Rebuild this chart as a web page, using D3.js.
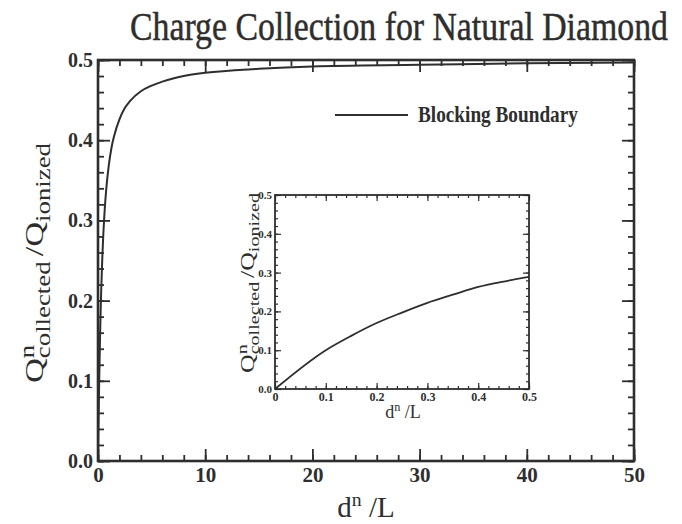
<!DOCTYPE html>
<html><head><meta charset="utf-8">
<script src="https://cdn.jsdelivr.net/npm/d3@7"></script>
<style>
html,body{margin:0;padding:0;background:#fff;}
svg{display:block;font-family:"Liberation Serif","Times New Roman",serif;}
text{white-space:pre;}
</style></head>
<body><svg id="c" width="682" height="524"></svg>
<script>
// ---- data ----
const mainX = [0,0.05,0.1,0.15,0.2,0.25,0.3,0.4,0.5,0.6,0.75,1,1.25,1.5,2,2.5,3,4,5,6,7,8,10,15,20,30,40,50];
const mainY = [0,0.048,0.09,0.127,0.16,0.189,0.213,0.253,0.284,0.308,0.336,0.368,0.39,0.405,0.426,0.44,0.449,0.461,0.468,0.473,0.477,0.48,0.484,0.489,0.492,0.494,0.496,0.497];
const insetX = [0,0.1,0.15,0.2,0.25,0.3,0.35,0.4,0.45,0.5];
const insetY = [0,0.1,0.137,0.17,0.197,0.222,0.243,0.263,0.277,0.289];
const mainXTicks = [0,10,20,30,40,50];
const mainYTicks = [0.0,0.1,0.2,0.3,0.4,0.5];
const insetXTicks = [0,0.1,0.2,0.3,0.4,0.5];
const insetYTicks = [0.0,0.1,0.2,0.3,0.4,0.5];
const titleText = "Charge Collection for Natural Diamond";
const legendText = "Blocking Boundary";

const ink = "#2e2e2e";
const svg = d3.select("#c");

function panel(g, box, xd, yd, xt, yt, xMinorStep, yMinorStep, o){
  const x = d3.scaleLinear().domain(xd).range([box.l, box.r]);
  const y = d3.scaleLinear().domain(yd).range([box.b, box.t]);
  const xMinor = d3.range(xd[0], xd[1] + 1e-9, xMinorStep);
  const yMinor = d3.range(yd[0], yd[1] + 1e-9, yMinorStep);
  const mk = (axisFn, scale, vals, len, tr) => {
    const a = g.append("g").attr("transform", tr)
      .call(axisFn(scale).tickValues(vals).tickSize(len).tickFormat(""));
    a.select(".domain").remove();
    a.selectAll("line").attr("stroke", ink).attr("stroke-width", o.tw);
  };
  mk(d3.axisTop, x, xMinor, o.minor, `translate(0,${box.b})`);
  mk(d3.axisTop, x, xt, o.major, `translate(0,${box.b})`);
  mk(d3.axisBottom, x, xMinor, o.minor, `translate(0,${box.t})`);
  mk(d3.axisBottom, x, xt, o.major, `translate(0,${box.t})`);
  mk(d3.axisRight, y, yMinor, o.minor, `translate(${box.l},0)`);
  mk(d3.axisRight, y, yt, o.major, `translate(${box.l},0)`);
  mk(d3.axisLeft, y, yMinor, o.minor, `translate(${box.r},0)`);
  mk(d3.axisLeft, y, yt, o.major, `translate(${box.r},0)`);
  g.append("rect").attr("x", box.l).attr("y", box.t)
    .attr("width", box.r - box.l).attr("height", box.b - box.t)
    .attr("fill", "none").attr("stroke", ink).attr("stroke-width", o.frame);
  const xl = g.append("g").attr("transform", `translate(0,${box.b})`)
    .call(d3.axisBottom(x).tickValues(xt).tickSize(0).tickPadding(o.xpad).tickFormat(o.xfmt));
  xl.select(".domain").remove();
  xl.selectAll("text").attr("fill", ink).attr("font-family", "Liberation Serif")
    .attr("font-size", o.xfs).attr("font-weight", "bold");
  const yl = g.append("g").attr("transform", `translate(${box.l},0)`)
    .call(d3.axisLeft(y).tickValues(yt).tickSize(0).tickPadding(o.ypad).tickFormat(d3.format(".1f")));
  yl.select(".domain").remove();
  yl.selectAll("text").attr("fill", ink).attr("font-family", "Liberation Serif")
    .attr("font-size", o.yfs).attr("font-weight", "bold");
  return {x, y};
}

// rich label: pieces drawn sequentially, measuring widths
function rich(g, pieces, fs){
  g.selectAll("*").remove();
  let cx = 0, stackStart = null;
  pieces.forEach(p => {
    const t = g.append("text").attr("font-size", fs * (p.s || 1))
      .attr("fill", ink).attr("y", (p.dy || 0) * fs).text(p.t);
    let start = cx + (p.gap || 0) * fs;
    if (p.under) start = stackStart;
    t.attr("x", start);
    const w = t.node().getComputedTextLength();
    if (p.over) { stackStart = start; cx = start + w; }
    else if (p.under) { cx = Math.max(cx, start + w); }
    else cx = start + w;
  });
  return cx;
}

// ---- title (stretched vertically like the scan) ----
const title = svg.append("text").attr("text-anchor", "middle").attr("font-size", 32)
  .attr("fill", ink).attr("stroke", ink).attr("stroke-width", 0.4).text(titleText);
const tw = title.node().getComputedTextLength();
title.attr("font-size", 32 * 538 / tw).attr("transform", "translate(399,40) scale(1,1.2)");

// ---- main panel ----
const mainBox = {l: 98, r: 634, t: 60, b: 461};
const gm = svg.append("g");
const m = panel(gm, mainBox, [0, 50], [0, 0.5], mainXTicks, mainYTicks, 2, 0.02,
  {minor: 6, major: 12, tw: 1.8, frame: 2.6, xpad: 6, ypad: 5, xfs: 21, yfs: 20,
   xfmt: d3.format("d")});

gm.append("path").datum(mainX.map((v, i) => [v, mainY[i]]))
  .attr("fill", "none").attr("stroke", ink).attr("stroke-width", 2)
  .attr("d", d3.line().x(d => m.x(d[0])).y(d => m.y(d[1])).curve(d3.curveMonotoneX));

// legend
svg.append("line").attr("x1", 335).attr("x2", 408).attr("y1", 115).attr("y2", 115)
  .attr("stroke", ink).attr("stroke-width", 2);
const leg = svg.append("text").attr("font-size", 19)
  .attr("font-weight", "bold").attr("fill", ink).text(legendText);
const lw = leg.node().getComputedTextLength();
leg.attr("font-size", 19 * 160 / lw).attr("transform", "translate(418,122) scale(1,1.18)");

const xPieces = [{t: "d", s: 1}, {t: "n", s: 0.68, dy: -0.38}, {t: " /L", s: 1}];
const yPieces = [{t: "Q", s: 1}, {t: "n", s: 0.78, dy: -0.36, over: true},
  {t: "collected", s: 0.78, dy: 0.28, under: true}, {t: "/Q", s: 1, gap: 0.15},
  {t: "ionized", s: 0.78, dy: 0.28}];

// axis labels (main)
const xlab = svg.append("g");
const xw = rich(xlab, xPieces, 29);
xlab.attr("transform", `translate(${366 - xw / 2},517)`);

const ylab = svg.append("g");
const yw = rich(ylab, yPieces, 26);
const ys = 240 / yw;
ylab.attr("transform", `translate(43,${263 + 120}) rotate(-90) scale(${ys},1)`);

// ---- inset ----
const insetBox = {l: 275, r: 529, t: 195, b: 389};
const gi = svg.append("g");
const ins = panel(gi, insetBox, [0, 0.5], [0, 0.5], insetXTicks, insetYTicks, 0.02, 0.02,
  {minor: 3, major: 6, tw: 1.2, frame: 1.8, xpad: 3, ypad: 3, xfs: 12, yfs: 11,
   xfmt: d => d === 0 ? "0" : d3.format(".1f")(d)});
gi.append("path").datum(insetX.map((v, i) => [v, insetY[i]]))
  .attr("fill", "none").attr("stroke", ink).attr("stroke-width", 1.8)
  .attr("d", d3.line().x(d => ins.x(d[0])).y(d => ins.y(d[1])).curve(d3.curveMonotoneX));

const ixl = svg.append("g");
const ixw = rich(ixl, xPieces, 18);
ixl.attr("transform", `translate(${403 - ixw / 2},418)`);

const iyl = svg.append("g");
const iyw = rich(iyl, yPieces, 18.5);
const iys = 180 / iyw;
iyl.attr("transform", `translate(254,${283 + 90}) rotate(-90) scale(${iys},1)`);
</script></body></html>
